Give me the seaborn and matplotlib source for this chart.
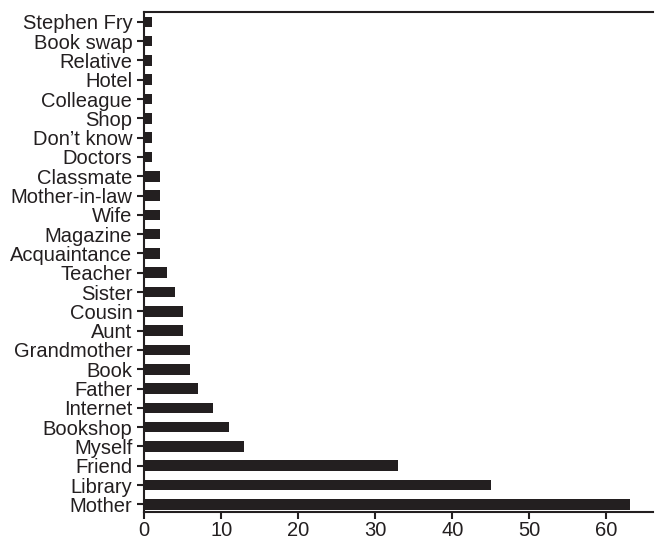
import matplotlib
matplotlib.use("Agg")
import matplotlib.pyplot as plt
import seaborn as sns
import pandas as pd

# categories listed top to bottom
sources = ["Stephen Fry", "Book swap", "Relative", "Hotel", "Colleague", "Shop",
           "Don\u2019t know", "Doctors", "Classmate", "Mother-in-law", "Wife",
           "Magazine", "Acquaintance", "Teacher", "Sister", "Cousin", "Aunt",
           "Grandmother", "Book", "Father", "Internet", "Bookshop", "Myself",
           "Friend", "Library", "Mother"]
counts = [1, 1, 1, 1, 1, 1, 1, 1, 2, 2, 2, 2, 2, 3, 4, 5, 5, 6, 6, 7, 9, 11, 13,
          33, 45, 63]
x_ticks = [0, 10, 20, 30, 40, 50, 60]

sns.set_theme(style="ticks")
plt.rcParams["font.family"] = ["Liberation Sans", "DejaVu Sans"]

df = pd.DataFrame({"source": sources, "count": counts})

fig = plt.figure(figsize=(6.58, 5.45), dpi=100)
ax = fig.add_axes([0.219, 0.06, 0.773, 0.918])
sns.barplot(data=df, x="count", y="source", order=sources, orient="h",
            color="#231f20", saturation=1, width=0.55, linewidth=0, ax=ax)

ax.set_xlim(0, 66)
ax.set_ylim(len(sources) - 1 + 0.41, -0.51)
ax.set_xticks(x_ticks)
ax.set_xlabel("")
ax.set_ylabel("")
ax.tick_params(axis="both", labelsize=14.5, colors="#231f20", width=1.5,
               length=5, pad=3.5)
ax.tick_params(axis="x", pad=1)
for side in ["left", "bottom", "top"]:
    ax.spines[side].set_linewidth(1.5)
    ax.spines[side].set_color("#231f20")
ax.spines["right"].set_visible(False)

fig.savefig("out.png", dpi=100)
